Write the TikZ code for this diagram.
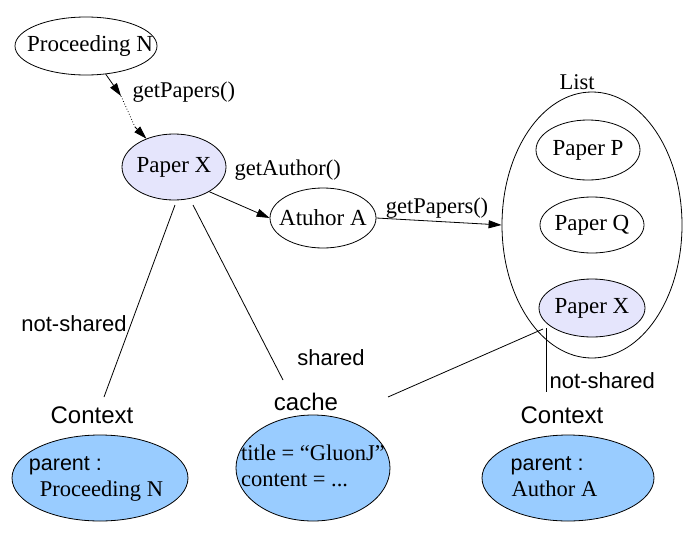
\documentclass[tikz,border=0pt]{standalone}
\usepackage{fontspec}
\setmainfont{Liberation Serif}
\setsansfont{Liberation Sans}
\usetikzlibrary{arrows.meta}
\usetikzlibrary{shapes.geometric}

\definecolor{paperx}{RGB}{229,229,252}
\definecolor{ctxblue}{RGB}{153,204,255}
% keeps the ellipse at its own size, whatever the text
\newcommand{\nowidth}[1]{\makebox[0pt]{#1}}
\newcommand{\twolines}[3][0pt]{\makebox[0pt]{\begin{tabular}{@{}l@{}}#2\\#3\end{tabular}\hspace*{#1}}}

\begin{document}
\begin{tikzpicture}[x=1pt,y=-1pt,line width=0.8pt,
    obj/.style={draw, ellipse, inner sep=0pt, font=\fontsize{23}{27}\selectfont},
    ctx/.style={obj, fill=ctxblue, font=\fontsize{22.5}{26}\selectfont},
    meth/.style={font=\fontsize{22.5}{26}\selectfont},
    tag/.style={font=\sffamily\fontsize{24}{28}\selectfont},
    share/.style={font=\sffamily\fontsize{22}{26}\selectfont},
    call/.style={-{Triangle[length=13pt,width=8pt]}}]
  \useasboundingbox (0,0) rectangle (688,533);

  % objects
  \node[obj, minimum width=142, minimum height=58] (pn) at (86,46) {\nowidth{\hspace*{8pt}Proceeding N}};
  \node[obj, fill=paperx, minimum width=104, minimum height=66] (px) at (174,167) {\nowidth{Paper X}};
  \node[obj, minimum width=106, minimum height=60] (aa) at (323,218) {\nowidth{Atuhor A}};

  % the list
  \node[obj, minimum width=180, minimum height=266] (lst) at (592,225) {};
  \node[obj, minimum width=104, minimum height=60] (pp) at (588,150) {\nowidth{Paper P}};
  \node[obj, minimum width=104, minimum height=56] (pq) at (592,225) {\nowidth{Paper Q}};
  \node[obj, fill=paperx, minimum width=106, minimum height=58] (px2) at (592,308) {\nowidth{Paper X}};
  \node[meth] (lsttag) at (577,82) {List};

  % calls
  \coordinate (m1) at (121,96);
  \coordinate (m2) at (135,127);
  \draw[call] (pn) -- (m1);
  \draw[dotted] (m1) -- (m2);
  \draw[call] (m2) -- (px);
  \node[meth, anchor=west] (gp1) at (129,92) {getPapers()};

  \draw[call] (px.-35) -- (aa.west);
  \node[meth, anchor=west] (ga) at (231,170) {getAuthor()};

  \draw[call] (aa.east) -- (lst.west);
  \node[meth] (gp2) at (437,208) {getPapers()};

  % contexts
  \node[tag] (ctag1) at (92,415) {Context};
  \node[tag] (ctag2) at (306,402) {cache};
  \node[tag] (ctag3) at (562,415) {Context};

  \node[ctx, minimum width=176, minimum height=86] (c1) at (100,478)
    {\twolines[8pt]{{\sffamily\fontsize{21.5}{26}\selectfont parent :}}{\hspace*{11pt}Proceeding N}};
  \node[ctx, minimum width=154, minimum height=106] (c2) at (313,468)
    {\twolines{title = “GluonJ”}{content = ...}};
  \node[ctx, minimum width=172, minimum height=86] (c3) at (568,478)
    {\twolines[28pt]{{\sffamily\fontsize{21.5}{26}\selectfont parent :}}{\hspace*{1pt}Author A}};

  % sharing
  \coordinate (e1) at (104,397);
  \coordinate (e2) at (283,380);
  \coordinate (e3) at (388,397);
  \coordinate (e4) at (546,392);
  \coordinate (s1) at (175,205);
  \coordinate (s2) at (193,205);
  \coordinate (s3) at (543,329);
  \draw (s1) -- (e1);
  \draw (s2) -- (e2);
  \draw (s3) -- (e3);
  \draw (546,328) -- (e4);
  \node[share] (ns1) at (74,324) {not-shared};
  \node[share] (sh) at (331,358) {shared};
  \node[share, anchor=west] (ns2) at (546,381) {not-shared};

\end{tikzpicture}
\end{document}
